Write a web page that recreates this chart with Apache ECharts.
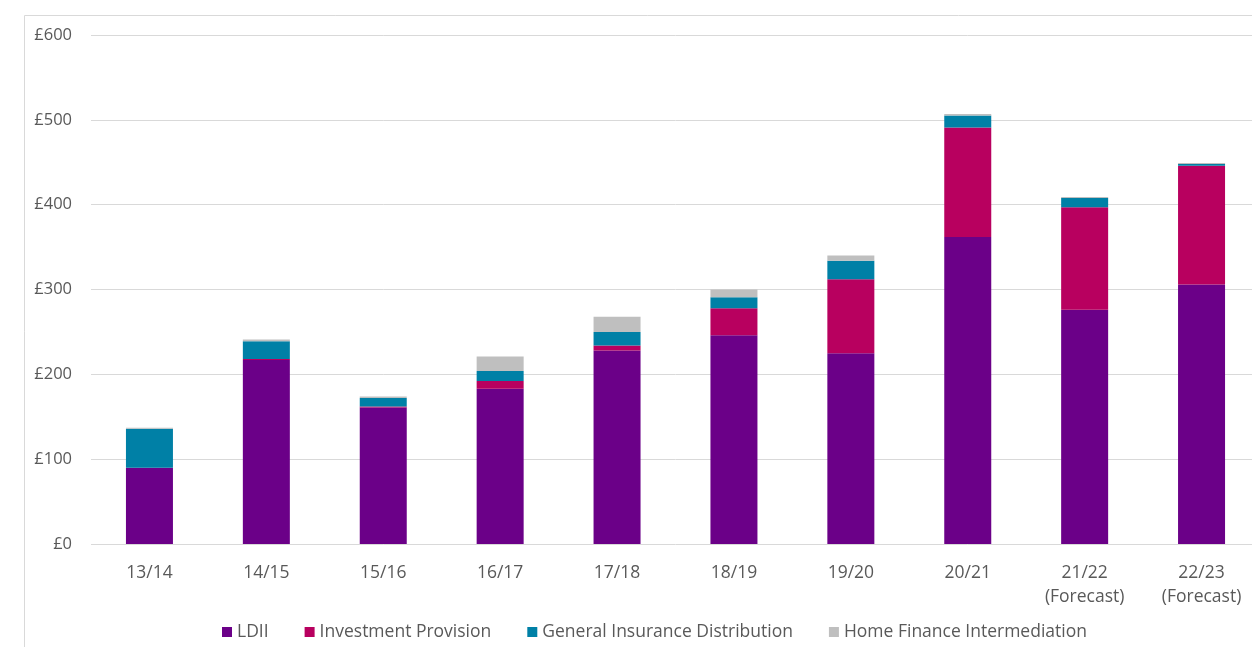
<!DOCTYPE html>
<html>
<head>
<meta charset="utf-8">
<script src="https://cdn.jsdelivr.net/npm/echarts@6/dist/echarts.min.js"></script>
<style>
html,body{margin:0;padding:0;background:#fff;overflow:hidden;width:1252px;height:647px;}
#chart{width:1270px;height:647px;}
</style>
</head>
<body>
<div id="chart"></div>
<script>
const categories = ['13/14','14/15','15/16','16/17','17/18','18/19','19/20','20/21','21/22\n(Forecast)','22/23\n(Forecast)'];
const ldii = [90, 217, 161, 183, 228, 246, 225, 362, 276, 306];
const investmentProvision = [0, 1, 1, 9, 6, 32, 87, 129, 121, 140];
const generalInsurance = [46, 21, 10, 12, 16, 13, 22, 14, 11, 2];
const homeFinance = [1, 2, 2, 17, 18, 9, 6, 2, 1, 1];
const yTicks = [0, 100, 200, 300, 400, 500, 600];

const colors = ['#6B0088', '#B8005F', '#0080A6', '#BFBFBF'];
const font = 'Open Sans';

const chart = echarts.init(document.getElementById('chart'));
function mk(name, data, color){
  return {name, type:'bar', stack:'total', data, barWidth:47,
    itemStyle:{color}, emphasis:{disabled:true}};
}
chart.setOption({
  animation:false,
  textStyle:{fontFamily:font},
  grid:{left:91, top:35, width:1169, bottom:103, containLabel:false},
  graphic:[
    {type:'line', shape:{x1:24.5,y1:15.5,x2:1270,y2:15.5}, style:{stroke:'#d9d9d9', lineWidth:1}},
    {type:'line', shape:{x1:24.5,y1:15.5,x2:24.5,y2:647}, style:{stroke:'#d9d9d9', lineWidth:1}}
  ],
  legend:{
    bottom:1, left:217, icon:'rect', itemWidth:10, itemHeight:10, itemGap:36,
    textStyle:{color:'#595959', fontSize:17.5, fontFamily:font},
    data:['LDII','Investment Provision','General Insurance Distribution','Home Finance Intermediation']
  },
  xAxis:{type:'category', data:categories,
    axisLine:{show:false}, axisTick:{show:false},
    axisLabel:{color:'#595959', fontSize:17.5, fontFamily:font, margin:17, lineHeight:24, interval:0}
  },
  yAxis:{type:'value', min:yTicks[0], max:yTicks[yTicks.length-1], interval:100,
    axisLine:{show:false}, axisTick:{show:false},
    splitLine:{lineStyle:{color:'#d9d9d9'}},
    axisLabel:{color:'#595959', fontSize:16.5, fontFamily:font, margin:19, formatter:v=>'£'+v}
  },
  series:[
    mk('LDII', ldii, colors[0]),
    mk('Investment Provision', investmentProvision, colors[1]),
    mk('General Insurance Distribution', generalInsurance, colors[2]),
    mk('Home Finance Intermediation', homeFinance, colors[3])
  ]
});
</script>
</body>
</html>
